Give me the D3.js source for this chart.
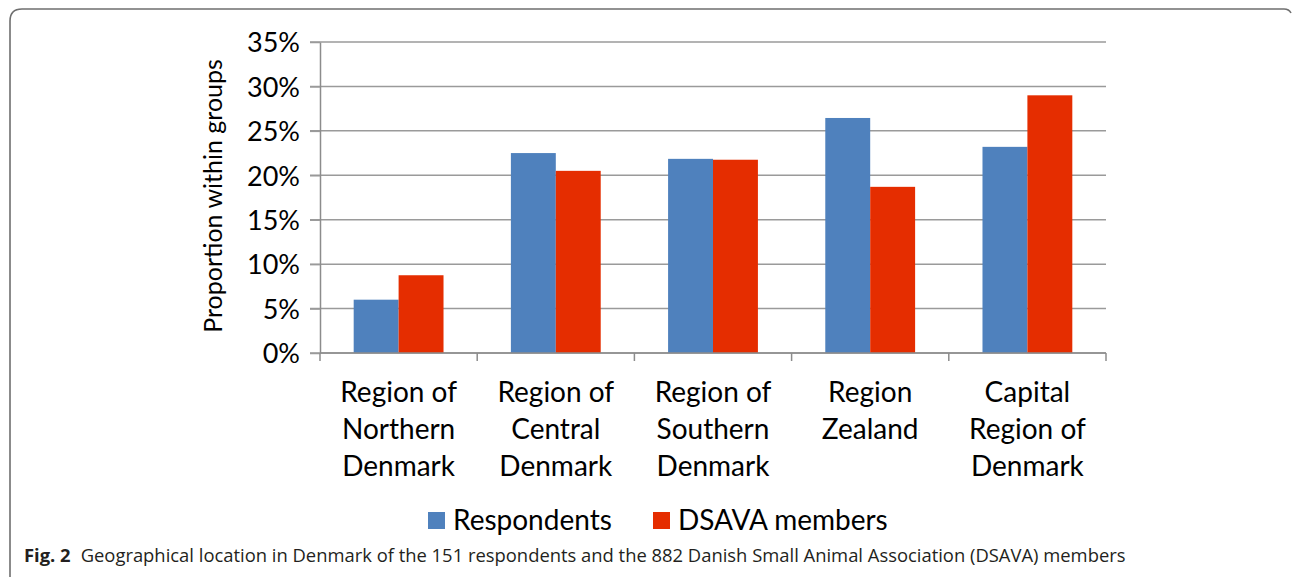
<!DOCTYPE html>
<html>
<head>
<meta charset="utf-8">
<script src="https://cdn.jsdelivr.net/npm/d3@7"></script>
<style>
  body { margin: 0; background: #fff; }
  svg { display: block; }
</style>
</head>
<body>
<script>
// data
const regions = [
    ["Region of", "Northern", "Denmark"],
    ["Region of", "Central", "Denmark"],
    ["Region of", "Southern", "Denmark"],
    ["Region", "Zealand"],
    ["Capital", "Region of", "Denmark"]
]
const series_names = ["Respondents", "DSAVA members"]
const respondents = [6.0, 22.5, 21.85, 26.45, 23.2]
const dsava = [8.75, 20.5, 21.75, 18.7, 29.0]
const y_ticks = [0, 5, 10, 15, 20, 25, 30, 35]
const colors = ["#4f81bd", "#e52d00"]

const W = 1293, H = 577
const chart_font = "Lato, 'Open Sans', sans-serif"

var svg = d3.select("body").append("svg").attr("width", W).attr("height", H)

// frame round the figure (top + left edge)
svg.append("path")
    .attr("d", "M10,577 L10,21 Q10,9 22,9 L1284,9 Q1289,9 1291,13")
    .attr("fill", "none")
    .attr("stroke", "#6f6f6f")
    .attr("stroke-width", 1.6)

const plot = { left: 320, right: 1106, top: 42, bottom: 353 }

var x0 = d3.scaleBand()
    .domain(d3.range(regions.length))
    .range([plot.left, plot.right])

var x1 = d3.scaleBand()
    .domain([0, 1])
    .range([0, x0.bandwidth()])
    .paddingOuter(0.75)

var y = d3.scaleLinear().domain([0, 35]).range([plot.bottom, plot.top])

// gridlines
svg.append("g")
    .selectAll("line")
    .data(y_ticks)
    .enter()
    .append("line")
    .attr("x1", plot.left - 10)
    .attr("x2", plot.right)
    .attr("y1", d => y(d))
    .attr("y2", d => y(d))
    .attr("stroke", "#9a9a9a")
    .attr("stroke-width", 1.5)

// bars
var groups = svg.append("g")
    .selectAll("g")
    .data(regions.map((r, i) => [respondents[i], dsava[i]]))
    .enter()
    .append("g")
    .attr("transform", (d, i) => "translate(" + x0(i) + ",0)")

groups.selectAll("rect")
    .data(d => d)
    .enter()
    .append("rect")
    .attr("x", (d, j) => x1(j))
    .attr("width", x1.bandwidth())
    .attr("y", d => y(d))
    .attr("height", d => y(0) - y(d))
    .attr("fill", (d, j) => colors[j])

// y axis
var yAxis = svg.append("g")
    .attr("transform", "translate(" + plot.left + ",0)")
    .call(d3.axisLeft(y).tickValues(y_ticks).tickFormat(d => d + "%").tickSize(10).tickSizeOuter(0))
yAxis.select(".domain").attr("stroke", "#8c8c8c").attr("stroke-width", 1.5)
yAxis.selectAll(".tick line").attr("stroke", "#9a9a9a").attr("stroke-width", 1.5)
yAxis.selectAll(".tick text")
    .attr("x", -20)
    .attr("dy", "0.36em")
    .style("font-family", chart_font)
    .style("font-size", "27px")
    .attr("fill", "#000")

// x axis line + category ticks
svg.append("line")
    .attr("x1", plot.left).attr("x2", plot.right)
    .attr("y1", y(0)).attr("y2", y(0))
    .attr("stroke", "#8c8c8c").attr("stroke-width", 1.5)

svg.append("g")
    .selectAll("line")
    .data(d3.range(regions.length + 1))
    .enter()
    .append("line")
    .attr("x1", i => plot.left + i * x0.step())
    .attr("x2", i => plot.left + i * x0.step())
    .attr("y1", y(0))
    .attr("y2", y(0) + 8)
    .attr("stroke", "#8c8c8c").attr("stroke-width", 1.5)

// category labels
var cat = svg.append("g")
    .selectAll("text")
    .data(regions)
    .enter()
    .append("text")
    .attr("x", (d, i) => x0(i) + x0.bandwidth() / 2)
    .attr("y", 402)
    .attr("text-anchor", "middle")
    .style("font-family", chart_font)
    .style("font-size", "28px")
    .attr("fill", "#000")

cat.selectAll("tspan")
    .data(d => d)
    .enter()
    .append("tspan")
    .attr("x", function () { return d3.select(this.parentNode).attr("x") })
    .attr("dy", (d, k) => k === 0 ? 0 : 37)
    .text(d => d)

// y axis title
svg.append("text")
    .attr("transform", "translate(222,196) rotate(-90)")
    .attr("text-anchor", "middle")
    .style("font-family", chart_font)
    .style("font-size", "25px")
    .attr("fill", "#000")
    .text("Proportion within groups")

// legend
var legend = svg.append("g")
    .selectAll("g")
    .data(series_names)
    .enter()
    .append("g")
    .attr("transform", (d, i) => "translate(" + [428, 653][i] + ",512)")

legend.append("rect")
    .attr("width", 17).attr("height", 17)
    .attr("fill", (d, i) => colors[i])

legend.append("text")
    .attr("x", 25)
    .attr("y", 18)
    .style("font-family", chart_font)
    .style("font-size", "28px")
    .attr("fill", "#000")
    .text(d => d)

// caption
var caption = svg.append("text")
    .attr("x", 24)
    .attr("y", 562)
    .style("font-family", "'Open Sans', 'Noto Sans', sans-serif")
    .style("font-size", "18.4px")
    .attr("fill", "#231f20")
caption.append("tspan").style("font-weight", "bold").text("Fig. 2")
caption.append("tspan").attr("dx", 10)
    .text("Geographical location in Denmark of the 151 respondents and the 882 Danish Small Animal Association (DSAVA) members")
</script>
</body>
</html>
